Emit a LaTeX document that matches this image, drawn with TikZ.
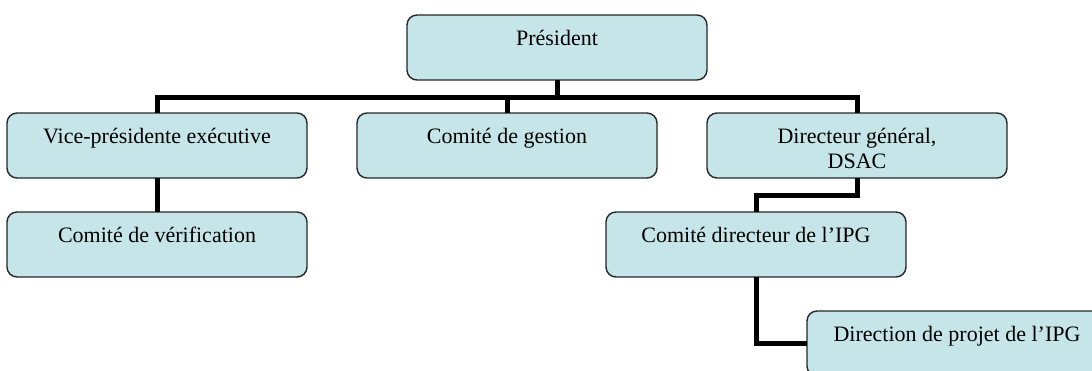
\documentclass[tikz,border=0pt]{standalone}
\usepackage{fontspec}
\setmainfont{Liberation Serif}
\definecolor{boxfill}{RGB}{198,229,232}
\begin{document}
\begin{tikzpicture}[x=1pt,y=-1pt,
  orgbox/.style={draw=black!85, line width=1.4pt, fill=boxfill, rounded corners=10pt,
    anchor=north west, minimum width=300pt, inner sep=0pt, outer sep=0pt,
    text height=30pt, text depth=35pt,
    font=\fontsize{22}{25}\selectfont},
  conn/.style={line width=5pt, draw=black}]
\useasboundingbox (0,0) rectangle (1092,370);
\clip (0,0) rectangle (1092,370);
\node[orgbox] (pres) at (407,15) {Président};
\node[orgbox] (vp) at (7,113) {Vice-présidente exécutive};
\node[orgbox] (cg) at (357,113) {Comité de gestion};
\node[orgbox] (dg) at (707,113) {\parbox[t]{290pt}{\centering Directeur général,\\DSAC}};
\node[orgbox] (cv) at (7,212) {Comité de vérification};
\node[orgbox] (cd) at (606,212) {Comité directeur de l’IPG};
\node[orgbox] (dp) at (807,311) {Direction de projet de l’IPG};
\path (pres.south) ++(0,17) coordinate (bus);
\path (dg.south) ++(0,17) coordinate (mid);
\draw[conn] (pres.south) -- (bus);
\draw[conn] (vp.north) |- (bus) -| (dg.north);
\draw[conn] (cg.north) -- (cg.north |- bus);
\draw[conn] (vp.south) -- (cv.north);
\draw[conn] (dg.south) -- (mid) -| (cd.north);
\draw[conn] (cd.south) |- (dp.west);
\end{tikzpicture}
\end{document}
